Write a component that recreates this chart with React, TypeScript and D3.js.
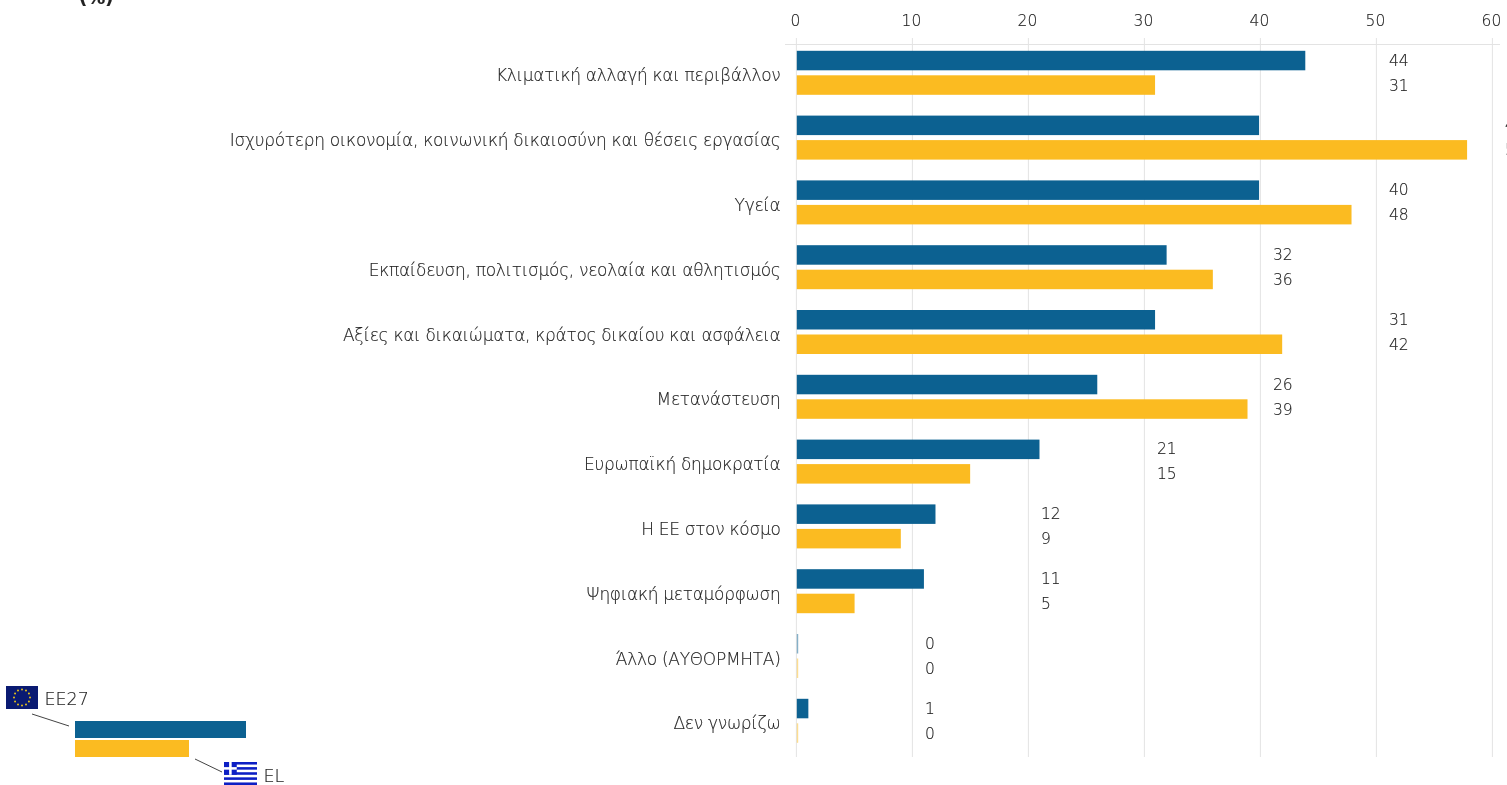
import React from "react";
import * as d3 from "d3";

const categories = [
  "Κλιματική αλλαγή και περιβάλλον",
  "Ισχυρότερη οικονομία, κοινωνική δικαιοσύνη και θέσεις εργασίας",
  "Υγεία",
  "Εκπαίδευση, πολιτισμός, νεολαία και αθλητισμός",
  "Αξίες και δικαιώματα, κράτος δικαίου και ασφάλεια",
  "Μετανάστευση",
  "Ευρωπαϊκή δημοκρατία",
  "Η ΕΕ στον κόσμο",
  "Ψηφιακή μεταμόρφωση",
  "Άλλο (ΑΥΘΟΡΜΗΤΑ)",
  "Δεν γνωρίζω",
];
const eu27 = [44, 40, 40, 32, 31, 26, 21, 12, 11, 0, 1];
const el = [31, 58, 48, 36, 42, 39, 15, 9, 5, 0, 0];
const ticks = [0, 10, 20, 30, 40, 50, 60];

const BLUE = "#0c6191";
const YELLOW = "#fbbb21";
const GRID = "#e3e3e3";
const TEXT = "#222222";
const FONT = "'DejaVu Sans', sans-serif";

const axisX = d3.scaleLinear().domain([0, 60]).range([796.4, 1492.4]);
const barX = d3.scaleLinear().domain([0, 60]).range([796.8, 1490.2]);
const rowY = d3.scaleBand<string>().domain(categories).range([40.4, 753.2]);
const BAR_H = 19.5;

function EuFlag({ x, y }: { x: number; y: number }) {
  const stars = d3.range(12).map((i) => (i * Math.PI * 2) / 12);
  return (
    <g transform={`translate(${x},${y})`}>
      <rect width={32} height={23} fill="#0a1a72" />
      {stars.map((a, i) => (
        <circle key={i} cx={16 + Math.cos(a) * 8} cy={11.5 + Math.sin(a) * 8} r={1} fill="#e6c21a" />
      ))}
    </g>
  );
}

function GreekFlag({ x, y }: { x: number; y: number }) {
  const h = 23;
  const w = 33;
  const s = h / 9;
  return (
    <g transform={`translate(${x},${y})`}>
      <rect width={w} height={h} fill="#fff" />
      {d3.range(0, 9, 2).map((i) => (
        <rect key={i} y={i * s} width={w} height={s} fill="#0d1fc4" />
      ))}
      <rect width={s * 5} height={s * 5} fill="#0d1fc4" />
      <rect x={s * 2} width={s} height={s * 5} fill="#fff" />
      <rect y={s * 2} width={s * 5} height={s} fill="#fff" />
    </g>
  );
}

export default function App() {
  const band = rowY.bandwidth();
  return (
    <svg
      width={1507}
      height={785}
      style={{ position: "absolute", left: 0, top: 0, fontFamily: FONT, fontWeight: 200 }}
    >
      <line x1={785} x2={1500} y1={44.5} y2={44.5} stroke={GRID} />
      {ticks.map((t) => (
        <line key={t} x1={axisX(t)} x2={axisX(t)} y1={38} y2={757} stroke={GRID} />
      ))}

      {categories.map((c, i) => {
        const mid = rowY(c)! + band / 2;
        return (
          <g key={c}>
            <rect
              x={barX(0)}
              y={mid - 22}
              width={Math.max(barX(eu27[i]) - barX(0), 1.4)}
              height={BAR_H}
              fill={BLUE}
              opacity={eu27[i] === 0 ? 0.5 : 1}
            />
            <rect
              x={barX(0)}
              y={mid + 2.5}
              width={Math.max(barX(el[i]) - barX(0), 1.4)}
              height={BAR_H}
              fill={YELLOW}
              opacity={el[i] === 0 ? 0.5 : 1}
            />
          </g>
        );
      })}

      <EuFlag x={6} y={686} />
      <line x1={32} y1={714} x2={69} y2={726} stroke="#444" />
      <rect x={75} y={721} width={171} height={17} fill={BLUE} />
      <rect x={75} y={740} width={114} height={17} fill={YELLOW} />
      <line x1={195} y1={759} x2={222} y2={772} stroke="#444" />
      <GreekFlag x={224} y={762} />

      <g fill={TEXT} stroke={TEXT} strokeWidth={0.15} style={{ filter: "grayscale(1)" }}>
        <text x={79} y={4} fontSize={18} fontWeight={700} fill="#222">(%)</text>
        {ticks.map((t) => (
          <text key={t} x={axisX(t) - 1} y={26} textAnchor="middle" fontSize={15.5}>{t}</text>
        ))}
        {categories.map((c, i) => {
          const mid = rowY(c)! + band / 2;
          const labelCol = Math.ceil(Math.max(eu27[i], el[i]) / 10) * 10 + 1;
          const lx = axisX(Math.max(labelCol, 11)) + 1;
          return (
            <g key={c}>
              <text x={780.5} y={mid + 8.5} textAnchor="end" fontSize={17} letterSpacing={-0.3}>{c}</text>
              <text x={lx} y={mid - 7.3} fontSize={15.5}>{eu27[i]}</text>
              <text x={lx} y={mid + 17.7} fontSize={15.5}>{el[i]}</text>
            </g>
          );
        })}
        <text x={44.5} y={705} fontSize={17.5}>ΕΕ27</text>
        <text x={263.5} y={782} fontSize={17.5}>EL</text>
      </g>
    </svg>
  );
}
